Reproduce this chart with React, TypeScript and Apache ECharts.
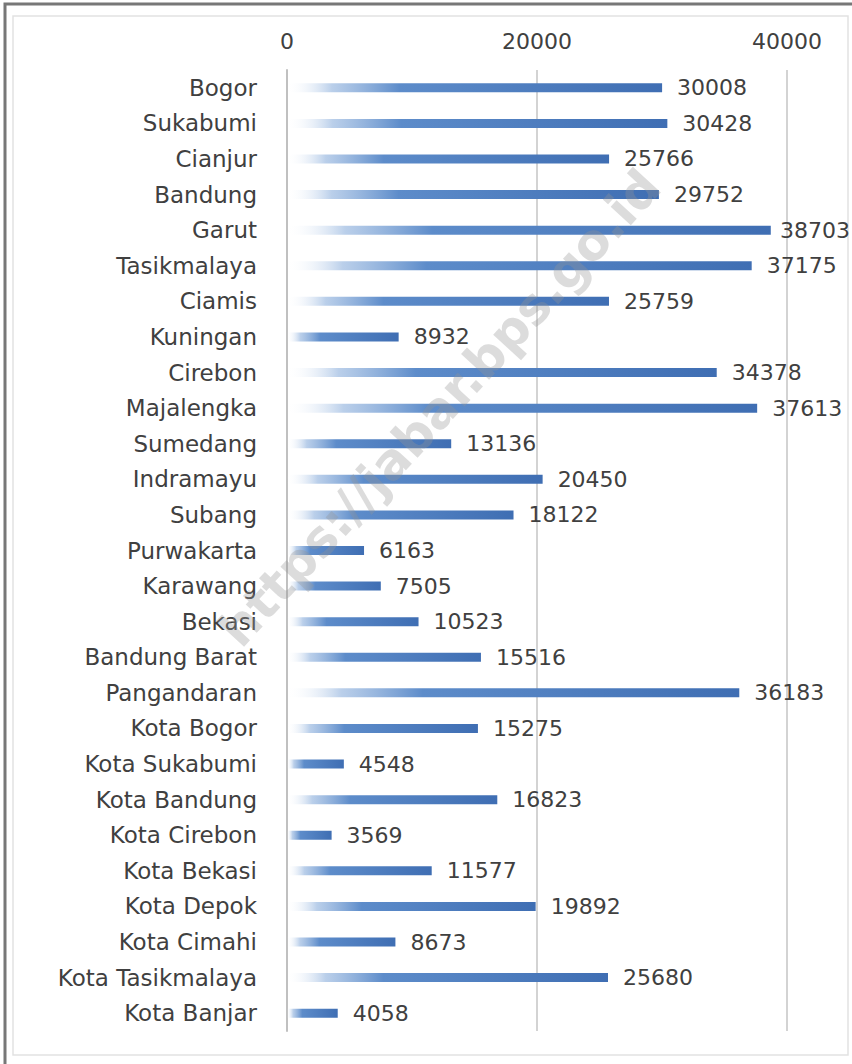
import React, { useEffect, useRef } from "react";
import * as echarts from "echarts";

const categories = [
  "Bogor", "Sukabumi", "Cianjur", "Bandung", "Garut", "Tasikmalaya", "Ciamis",
  "Kuningan", "Cirebon", "Majalengka", "Sumedang", "Indramayu", "Subang",
  "Purwakarta", "Karawang", "Bekasi", "Bandung Barat", "Pangandaran",
  "Kota Bogor", "Kota Sukabumi", "Kota Bandung", "Kota Cirebon", "Kota Bekasi",
  "Kota Depok", "Kota Cimahi", "Kota Tasikmalaya", "Kota Banjar",
];
const values = [
  30008, 30428, 25766, 29752, 38703, 37175, 25759, 8932, 34378, 37613, 13136,
  20450, 18122, 6163, 7505, 10523, 15516, 36183, 15275, 4548, 16823, 3569,
  11577, 19892, 8673, 25680, 4058,
];
const axisMin = 0;
const axisMax = 40000;
const axisInterval = 20000;
const watermark = "https://jabar.bps.go.id";

export default function App() {
  const ref = useRef<HTMLDivElement>(null);
  useEffect(() => {
    if (!ref.current) return;
    const chart = echarts.init(ref.current, null, { renderer: "svg" });
    const font = "DejaVu Sans";
    chart.setOption({
      animation: false,
      backgroundColor: "#ffffff",
      grid: { left: 287, right: 65, top: 70, bottom: 33, containLabel: false },
      xAxis: {
        type: "value",
        position: "top",
        min: axisMin,
        max: axisMax,
        interval: axisInterval,
        axisLine: { show: false },
        axisTick: { show: false },
        axisLabel: {
          color: "#404040",
          fontSize: 22,
          fontFamily: font,
          margin: 18,
          formatter: (v: number) => String(v),
        },
        splitLine: { show: true, lineStyle: { color: "#c4c4c4", width: 1.5 } },
      },
      yAxis: {
        type: "category",
        data: categories,
        inverse: true,
        axisLine: { show: true, lineStyle: { color: "#c0c0c0", width: 2 } },
        axisTick: { show: false },
        axisLabel: { color: "#404040", fontSize: 23, fontFamily: font, margin: 30 },
      },
      series: [
        {
          type: "bar",
          data: values,
          barWidth: 9,
          itemStyle: {
            color: new echarts.graphic.LinearGradient(0, 0, 1, 0, [
              { offset: 0, color: "rgba(255,255,255,0)" },
              { offset: 0.12, color: "rgba(140,175,220,0.6)" },
              { offset: 0.3, color: "#5d8cca" },
              { offset: 1, color: "#3f6eb3" },
            ]),
          },
          label: {
            show: true,
            position: "right",
            distance: 15,
            color: "#404040",
            fontSize: 22,
            fontFamily: font,
          },
          labelLayout: (params: any) => {
            const r = params.labelRect;
            const limit = 850;
            if (r.x + r.width > limit) {
              return { dx: limit - (r.x + r.width) };
            }
            return {};
          },
        },
      ],
      graphic: [
        {
          type: "rect",
          shape: { x: 13, y: 16, width: 835, height: 1039 },
          style: { fill: "none", stroke: "#e2e2e2", lineWidth: 1.5 },
          silent: true,
          z: -1,
        },
        {
          type: "polyline",
          shape: { points: [[5, 1064], [5, 4], [852, 4]] },
          style: { fill: "none", stroke: "#777777", lineWidth: 3 },
          silent: true,
        },
        {
          type: "text",
          x: 440,
          y: 408,
          rotation: (47.5 * Math.PI) / 180,
          style: {
            text: watermark,
            fontSize: 50,
            fontWeight: "bold",
            fontFamily: font,
            fill: "rgba(150,150,150,0.33)",
            align: "center",
            verticalAlign: "middle",
          },
          silent: true,
          z: 100,
        },
      ],
    });
    return () => chart.dispose();
  }, []);
  return (
    <div
      ref={ref}
      style={{ position: "absolute", left: 0, top: 0, width: 852, height: 1064 }}
    />
  );
}
